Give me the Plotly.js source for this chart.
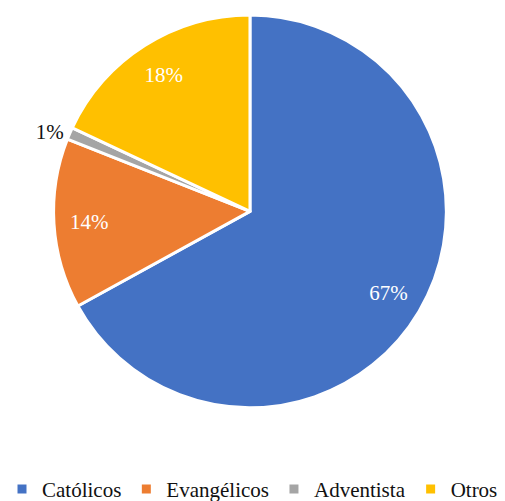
<!DOCTYPE html>
<html><head><meta charset="utf-8">
<script src="https://cdn.plot.ly/plotly-3.0.1.min.js"></script>
<style>html,body{margin:0;padding:0;background:#fff}#c{width:505px;height:501px}</style>
</head><body><div id="c"></div>
<script>
const categories = ["Católicos", "Evangélicos", "Adventista", "Otros"];
const values = [67, 14, 1, 18];
const colors = ["#4472C4", "#ED7D31", "#A5A5A5", "#FFC000"];
const textPositions = ["inside", "inside", "outside", "inside"];

const dom = {x: [0.105, 0.885], y: [0.186, 0.970]};
const data = [{
  type: "pie",
  labels: categories,
  values: values,
  sort: false,
  direction: "clockwise",
  rotation: 0,
  marker: {colors: colors, line: {color: "#ffffff", width: 3}},
  textinfo: "none",
  hoverinfo: "label+percent",
  domain: dom
}, {
  type: "pie",
  labels: categories,
  values: values,
  sort: false,
  direction: "clockwise",
  rotation: 0,
  hole: 0.64,
  showlegend: false,
  marker: {colors: categories.map(() => "rgba(0,0,0,0)"), line: {width: 0}},
  textinfo: "percent",
  texttemplate: "%{percent:.0%}",
  textposition: textPositions,
  insidetextorientation: "horizontal",
  insidetextfont: {color: "#ffffff", family: "Liberation Serif, serif", size: 21},
  outsidetextfont: {color: "#111111", family: "Liberation Serif, serif", size: 21},
  hoverinfo: "skip",
  domain: dom
}];

const layout = {
  width: 505, height: 501,
  margin: {l: 0, r: 0, t: 0, b: 0, autoexpand: false},
  paper_bgcolor: "#ffffff",
  showlegend: true,
  legend: {orientation: "h", x: 0.5, xanchor: "center", y: 0.064, yanchor: "top",
           font: {family: "Liberation Serif, serif", size: 21, color: "#111111"},
           itemwidth: 30, traceorder: "normal"},
  font: {family: "Liberation Serif, serif"}
};
Plotly.newPlot("c", data, layout, {displayModeBar: false, staticPlot: true});
</script></body></html>
